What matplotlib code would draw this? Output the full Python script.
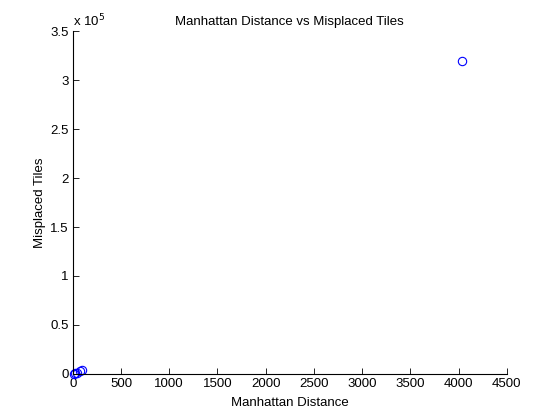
import matplotlib.pyplot as plt
from matplotlib.ticker import FuncFormatter

plt.rcParams['font.family'] = ['Liberation Sans', 'DejaVu Sans']

# data
manhattan = [8, 25, 45, 70, 95, 4040]
misplaced = [100, 400, 1200, 2500, 4200, 320000]

fig = plt.figure(figsize=(5.6, 4.2), dpi=100)
ax = fig.add_axes([0.13, 0.11, 0.775, 0.815])

ax.plot(manhattan, misplaced, 'o', markerfacecolor='none', markeredgecolor='b',
        markersize=6, markeredgewidth=0.8, clip_on=False)

ax.set_xlim(0, 4500)
ax.set_ylim(0, 350000)
ax.set_xticks(range(0, 4501, 500))
ax.set_yticks([i * 50000 for i in range(8)])
ax.yaxis.set_major_formatter(FuncFormatter(lambda v, p: '%g' % (v / 1e5)))

for s in ['top', 'right']:
    ax.spines[s].set_visible(False)
ax.tick_params(direction='in', labelsize=9.5, length=4, width=0.6, pad=3)
for s in ['left', 'bottom']:
    ax.spines[s].set_linewidth(0.8)

ax.text(0.0, 1.005, 'x 10$^5$', transform=ax.transAxes, fontsize=9.5, va='bottom', ha='left')
ax.set_xlabel('Manhattan Distance', fontsize=9.5, labelpad=5)
ax.set_ylabel('Misplaced Tiles', fontsize=9.5, labelpad=3)
ax.set_title('Manhattan Distance vs Misplaced Tiles', fontsize=9.5, pad=5)

fig.savefig('out.png')
